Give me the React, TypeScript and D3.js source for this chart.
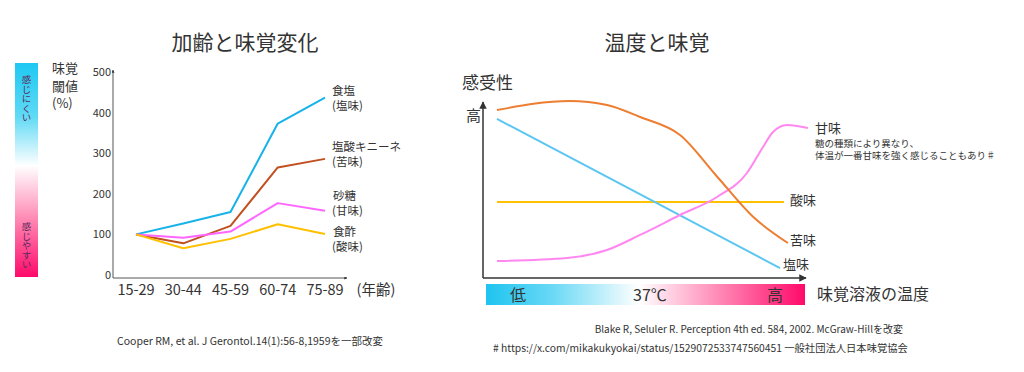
import React from "react";
import * as d3 from "d3";

const ages = ["15-29", "30-44", "45-59", "60-74", "75-89"];
const saltAge = [100, 127, 155, 373, 437];
const bitterAge = [100, 78, 121, 265, 286];
const sweetAge = [100, 92, 107, 177, 158];
const sourAge = [100, 66, 89, 125, 101];
const yTicks = [0, 100, 200, 300, 400, 500];

// temperature chart (relative units 0-100)
const bitterTempX = [0, 24, 36.3, 47.2, 60.4, 72.6, 84.5, 96];
const bitterTempY = [96, 101.1, 98.9, 92, 81.7, 58, 35, 20];
const saltTempX = [0, 93.4];
const saltTempY = [90.9, 5.7];
const sourTempX = [0, 94.7];
const sourTempY = [43.4, 43.4];
const sweetTempX = [0, 23.1, 36.3, 47.2, 60.4, 72.6, 82.5, 87.8, 91.1, 95.7, 102.6];
const sweetTempY = [9.7, 11.4, 16, 24.6, 36, 46.3, 60, 74.9, 83.4, 87.4, 85.7];

const FONT = "'Noto Sans CJK JP', 'Noto Sans', sans-serif";
const TXT = "#333";

export default function App() {
  const x = d3.scalePoint<string>().domain(ages).range([136, 325]);
  const y = d3.scaleLinear().domain([0, 500]).range([275, 72]);
  const lineL = d3
    .line<number>()
    .x((_, i) => x(ages[i]) as number)
    .y((d) => y(d));

  const xr = d3.scaleLinear().domain([0, 100]).range([497, 800]);
  const yr = d3.scaleLinear().domain([0, 100]).range([278, 103]);
  const mk = (xs: number[], ys: number[], curve: d3.CurveFactory) =>
    d3
      .line<number>()
      .x((d) => xr(d))
      .y((_, i) => yr(ys[i]))
      .curve(curve)(xs) as string;

  const leftSeries = [
    { v: saltAge, c: "#17b2ea" },
    { v: bitterAge, c: "#c0501f" },
    { v: sweetAge, c: "#ff66ff" },
    { v: sourAge, c: "#ffc000" },
  ];

  return (
    <svg width={1024} height={372} style={{ display: "block", position: "absolute", left: 0, top: 0 }} fontFamily={FONT}>
      <defs>
        <linearGradient id="gl" x1="0" y1="0" x2="0" y2="1">
          <stop offset="0" stopColor="#1ec8f2" />
          <stop offset="0.25" stopColor="#5fdaf5" />
          <stop offset="0.48" stopColor="#ffffff" />
          <stop offset="0.75" stopColor="#ff7fae" />
          <stop offset="1" stopColor="#ff0a6a" />
        </linearGradient>
        <linearGradient id="gr" x1="0" y1="0" x2="1" y2="0">
          <stop offset="0" stopColor="#1ec4f0" />
          <stop offset="0.2" stopColor="#66d8f5" />
          <stop offset="0.48" stopColor="#ffffff" />
          <stop offset="0.75" stopColor="#ff80b0" />
          <stop offset="1" stopColor="#ff0a6a" />
        </linearGradient>
        <marker id="arr" viewBox="0 0 10 10" refX="9" refY="5" markerWidth="5" markerHeight="5" orient="auto">
          <path d="M0,0 L10,5 L0,10 z" fill="#333" />
        </marker>
        <marker id="arrS" viewBox="0 0 10 10" refX="9" refY="5" markerWidth="3" markerHeight="3" orient="auto">
          <path d="M0,0 L10,5 L0,10 z" fill="#333" />
        </marker>
      </defs>

      {/* Left chart */}
      <text x={245} y={50} fontSize={21} textAnchor="middle" fill={TXT}>加齢と味覚変化</text>
      <rect x={15} y={63} width={23} height={214} fill="url(#gl)" />
      <text x={26.5} y={75} fontSize={9.5} fill="#5a2a5a" style={{ writingMode: "vertical-rl" }}>感じにくい</text>
      <text x={26.5} y={222} fontSize={9.5} fill="#5a2a5a" style={{ writingMode: "vertical-rl" }}>感じやすい</text>
      <text x={52} y={73} fontSize={13} fill={TXT}>味覚</text>
      <text x={52} y={90.5} fontSize={13} fill={TXT}>閾値</text>
      <text x={52} y={108} fontSize={13} fill={TXT}>(%)</text>

      {yTicks.map((t) => (
        <text key={t} x={111} y={y(t) + 4} fontSize={11} textAnchor="end" fill={TXT}>{t}</text>
      ))}
      <line x1={113} y1={278} x2={113} y2={70} stroke="#555" strokeWidth={1} markerEnd="url(#arrS)" />
      <line x1={113} y1={278} x2={347} y2={278} stroke="#555" strokeWidth={1} markerEnd="url(#arrS)" />
      {ages.map((a) => (
        <text key={a} x={x(a) as number} y={295} fontSize={14.5} textAnchor="middle" fill={TXT}>{a}</text>
      ))}
      <text x={376} y={295} fontSize={14.5} textAnchor="middle" fill={TXT}>(年齢)</text>

      {leftSeries.map((s, i) => (
        <path key={i} d={lineL(s.v) as string} fill="none" stroke={s.c} strokeWidth={2} strokeLinejoin="round" />
      ))}
      <g fontSize={11.5} fill={TXT}>
        <text x={332} y={95}>食塩</text>
        <text x={332} y={110}>(塩味)</text>
        <text x={332} y={151}>塩酸キニーネ</text>
        <text x={332} y={166}>(苦味)</text>
        <text x={333} y={200}>砂糖</text>
        <text x={332} y={215}>(甘味)</text>
        <text x={333} y={236}>食酢</text>
        <text x={332} y={251}>(酸味)</text>
      </g>
      <text x={117} y={345} fontSize={10.5} fill={TXT}>Cooper RM, et al. J Gerontol.14(1):56-8,1959を一部改変</text>

      {/* Right chart */}
      <text x={657} y={50} fontSize={21} textAnchor="middle" fill={TXT}>温度と味覚</text>
      <text x={462} y={89} fontSize={17} fill={TXT}>感受性</text>
      <text x={466} y={121} fontSize={15} fill={TXT}>高</text>
      <line x1={483} y1={278} x2={483} y2={102} stroke="#333" strokeWidth={1.5} markerEnd="url(#arr)" />
      <line x1={483} y1={278} x2={806} y2={278} stroke="#333" strokeWidth={1.5} markerEnd="url(#arr)" />

      <path d={mk(sourTempX, sourTempY, d3.curveLinear)} fill="none" stroke="#ffc000" strokeWidth={2} />
      <path d={mk(saltTempX, saltTempY, d3.curveLinear)} fill="none" stroke="#5cc6f2" strokeWidth={2} />
      <path d={mk(sweetTempX, sweetTempY, d3.curveMonotoneX)} fill="none" stroke="#ff88f0" strokeWidth={2} />
      <path d={mk(bitterTempX, bitterTempY, d3.curveMonotoneX)} fill="none" stroke="#ed7d31" strokeWidth={2} />

      <text x={815} y={133} fontSize={13} fill={TXT}>甘味</text>
      <text x={815} y={147} fontSize={9.5} fill={TXT}>糖の種類により異なり、</text>
      <text x={815} y={159} fontSize={9.5} fill={TXT}>体温が一番甘味を強く感じることもあり♯</text>
      <text x={790} y={205} fontSize={13} fill={TXT}>酸味</text>
      <text x={790} y={245} fontSize={13} fill={TXT}>苦味</text>
      <text x={783} y={269} fontSize={13} fill={TXT}>塩味</text>

      <rect x={486} y={284} width={319} height={21} fill="url(#gr)" />
      <text x={518} y={301} fontSize={16} textAnchor="middle" fill={TXT}>低</text>
      <text x={650} y={301} fontSize={16} textAnchor="middle" fill={TXT}>37℃</text>
      <text x={775} y={301} fontSize={16} textAnchor="middle" fill={TXT}>高</text>
      <text x={817} y={300} fontSize={16} fill={TXT}>味覚溶液の温度</text>

      <text x={903} y={333} fontSize={10} textAnchor="end" fill={TXT}>Blake R, Seluler R. Perception 4th ed. 584, 2002. McGraw-Hillを改変</text>
      <text x={493} y={352} fontSize={10.3} fill={TXT}># https://x.com/mikakukyokai/status/1529072533747560451 一般社団法人日本味覚協会</text>
    </svg>
  );
}
